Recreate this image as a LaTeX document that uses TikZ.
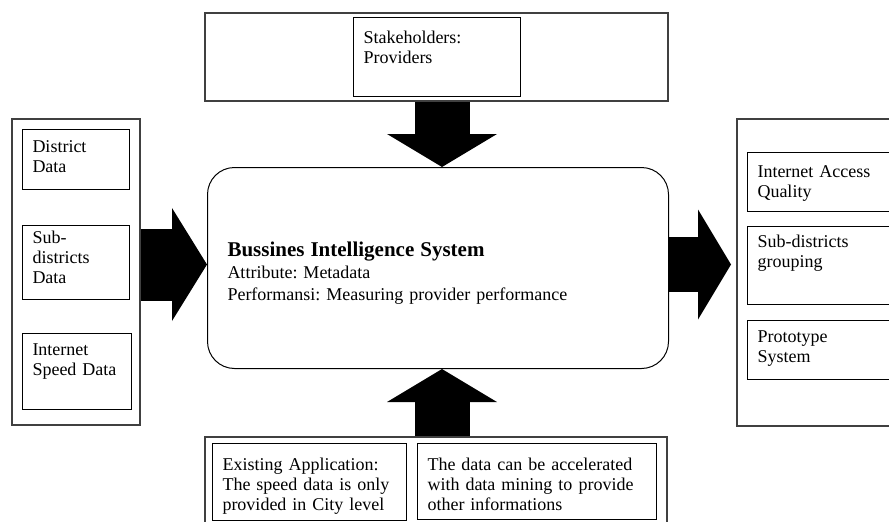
\documentclass[tikz,border=0pt]{standalone}
\usepackage{fontspec}
\setmainfont{Liberation Serif}
\usetikzlibrary{arrows.meta}
\frenchspacing

\tikzset{
  outbox/.style={draw=black!75, line width=1.5pt, anchor=north west, inner sep=0pt},
  inbox/.style={draw, line width=1pt, anchor=north west, inner xsep=10pt, inner ysep=0pt,
    align=left, font=\fontsize{18}{20}\selectfont},
  bigarrow/.style={line width=55pt, -{Triangle[length=33pt,width=110pt,line width=0pt]}}
}

\begin{document}
\begin{tikzpicture}[x=1pt,y=-1pt]
\useasboundingbox (0,0) rectangle (889,522);
% frames
\node[outbox, minimum width=463pt, minimum height=88pt] (stakebox) at (204,12) {};
\node[outbox, minimum width=128pt, minimum height=306pt] (inputs) at (11,118) {};
\node[outbox, minimum width=169pt, minimum height=307pt] (outputs) at (736,118) {};
\node[outbox, minimum width=462pt, minimum height=104pt] (feedbox) at (204,436) {};
% top
\node[inbox, text width=147pt, text height=26pt, text depth=53pt] (stake) at (353,17) {Stakeholders:\\Providers};
% left
\node[inbox, text width=87pt, text height=23pt, text depth=37pt] (district) at (22,129) {District\\Data};
\node[inbox, text width=87pt, text height=18pt, text depth=56pt] (subdistrict) at (22,225) {Sub-\\districts\\Data};
\node[inbox, text width=89pt, text height=22pt, text depth=54pt] (speed) at (22,333) {Internet\\Speed Data};
% right
\node[inbox, text width=138pt, text height=24.5pt, text depth=34.5pt] (quality) at (747,152) {Internet Access\\Quality};
\node[inbox, text width=138pt, text height=20.5pt, text depth=57.5pt] (grouping) at (747,226) {Sub-districts\\grouping};
\node[inbox, text width=138pt, text height=21.5pt, text depth=37.5pt] (prototype) at (747,320) {Prototype\\System};
% bottom
\node[inbox, text width=174pt, text height=27pt, text depth=50pt] (existing) at (212,443) {Existing Application:\\The speed data is only\\provided in City level};
\node[inbox, text width=219pt, text height=27pt, text depth=49pt] (mining) at (417,443) {The data can be accelerated\\with data mining to provide\\other informations};
% centre
\node[draw, line width=1pt, rounded corners=27pt, anchor=north west, inner xsep=20pt, inner ysep=0pt,
  text width=421pt, text height=89pt, text depth=112pt, align=left, font=\fontsize{18}{22}\selectfont] (bis) at (207,167)
  {{\fontsize{21}{22}\selectfont\textbf{Bussines Intelligence System}}\\Attribute: Metadata\\Performansi: Measuring provider performance};
% block arrows
\coordinate (vx) at (442,0);
\coordinate (hy) at (0,264.5);
\draw[bigarrow] (stakebox.south -| vx) -- (bis.north -| vx);
\draw[bigarrow] (feedbox.north -| vx) -- (bis.south -| vx);
\draw[line width=72pt, -{Triangle[length=35pt,width=113pt,line width=0pt]}] (inputs.east |- hy) -- (bis.west |- hy);
\draw[bigarrow, shorten >=5pt] (bis.east |- hy) -- (outputs.west |- hy);
\end{tikzpicture}
\end{document}
